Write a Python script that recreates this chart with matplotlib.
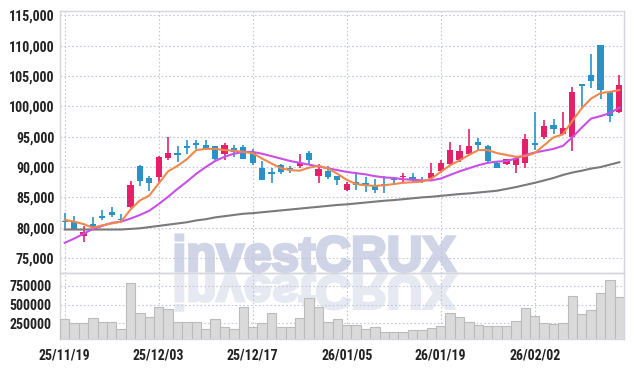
import numpy as np
import matplotlib
matplotlib.use("Agg")
import matplotlib.pyplot as plt
from matplotlib.textpath import TextPath
from matplotlib.patches import PathPatch
from matplotlib.font_manager import FontProperties
from matplotlib.transforms import Affine2D
from matplotlib.ticker import FuncFormatter

plt.rcParams['font.family'] = ['Liberation Sans Narrow', 'Roboto Condensed', 'DejaVu Sans']

# daily candles
opens = [81100, 81000, 78600, 80600, 81900, 82600, 81400, 83400, 90200, 88200,
         88300, 91500, 92300, 93500, 93800, 93600, 93500, 92100, 93200, 93300,
         92300, 89800, 89200, 90300, 89900, 90100, 92400, 88600, 89300, 88500,
         86200, 87500, 87400, 87100, 87200, 87900, 88300, 88400, 87900, 88200,
         89400, 90500, 91200, 92200, 94100, 93500, 90700, 90500, 90300, 90600,
         93900, 95000, 96900, 95400, 95000, 103700, 105200, 110100, 102400, 99100]
closes = [80900, 79800, 79300, 79900, 81600, 82100, 81200, 87000, 87700, 87400,
          91700, 92400, 92000, 93200, 93700, 93000, 91300, 93600, 92500, 91400,
          90600, 87900, 88800, 89200, 89700, 90600, 91100, 89600, 88400, 87900,
          87200, 87100, 86800, 86300, 87000, 87800, 88600, 87900, 87700, 89100,
          90600, 92800, 92600, 93500, 93600, 91000, 89900, 91300, 91500, 94600,
          93700, 96800, 96300, 96400, 102300, 103400, 104200, 102700, 98500, 103500]
highs = [82500, 81900, 80200, 81800, 82900, 83400, 82200, 87700, 90400, 88500,
         91800, 95000, 93400, 94500, 94500, 94500, 93500, 93900, 93700, 93600,
         92900, 91000, 89800, 90500, 90200, 92200, 92700, 90500, 90200, 88600,
         87600, 89000, 88300, 88000, 88500, 88300, 89100, 89000, 88400, 90600,
         91200, 94200, 93600, 96300, 94800, 93600, 90800, 91400, 91700, 95400,
         99100, 97800, 97900, 99100, 103200, 103700, 108600, 110100, 102500, 105200]
lows = [79600, 79700, 77700, 79700, 81200, 81700, 80900, 83300, 86800, 86100,
        87500, 91200, 90900, 92100, 93000, 92900, 91200, 91200, 91600, 91300,
        90300, 87800, 87300, 88900, 89100, 89800, 90500, 87300, 88000, 87000,
        86100, 86300, 85900, 85700, 85700, 87200, 87600, 87300, 87300, 87800,
        89100, 90200, 90900, 92000, 92800, 90900, 89800, 90300, 89000, 89900,
        92800, 94600, 95500, 95300, 92600, 99600, 103000, 101200, 97400, 99000]

# moving average lines
ma5 = [81300, 81000, 80600, 80000, 80400, 80700, 81000, 83000, 84500, 85300,
       87300, 89300, 90200, 91300, 92800, 93000, 93000, 92800, 92700, 92500,
       92300, 91400, 90600, 89800, 89500, 89400, 89900, 90200, 89800, 88900,
       87900, 87200, 87000, 86900, 87000, 87200, 87400, 87500, 87600, 88100,
       89200, 90300, 91100, 92000, 92800, 92800, 92300, 92000, 91700, 91800,
       92300, 93600, 94900, 95400, 97600, 99700, 101300, 102200, 102400, 102700]
ma20 = [77500, 78200, 79000, 79800, 80300, 80800, 81000, 81500, 82100, 82800,
        83900, 85100, 86400, 87600, 88900, 90000, 91000, 91700, 92200, 92500,
        92500, 92200, 91800, 91400, 91000, 90700, 90400, 90100, 89800, 89500,
        89200, 89000, 88800, 88500, 88300, 88200, 88000, 87900, 87800, 87800,
        88100, 88700, 89300, 89800, 90300, 90700, 90900, 91000, 91400, 92000,
        92400, 92700, 93000, 93500, 94900, 96500, 98000, 98400, 98900, 99800]
ma60 = [79700, 79700, 79700, 79700, 79700, 79700, 79700, 79800, 79900, 80100,
        80300, 80500, 80700, 80900, 81200, 81400, 81700, 81900, 82100, 82300,
        82400, 82550, 82700, 82850, 83000, 83150, 83300, 83450, 83600, 83750,
        83850, 84000, 84150, 84300, 84450, 84550, 84700, 84850, 85000, 85100,
        85250, 85400, 85550, 85650, 85800, 85950, 86100, 86400, 86700, 87050,
        87400, 87800, 88200, 88700, 89100, 89400, 89750, 90000, 90400, 90800]

volumes = [303000, 250000, 250000, 316000, 271000, 271000, 170000, 782000, 383000, 330000,
           463000, 436000, 271000, 263000, 263000, 170000, 311000, 205000, 170000, 463000,
           197000, 250000, 391000, 197000, 197000, 324000, 582000, 463000, 263000, 303000,
           227000, 227000, 170000, 197000, 134000, 134000, 134000, 157000, 157000, 184000,
           214000, 383000, 330000, 267000, 227000, 210000, 210000, 210000, 277000, 449000,
           347000, 254000, 241000, 254000, 613000, 374000, 427000, 653000, 822000, 600000]

date_pos = [0, 10, 20, 30, 40, 50]
date_labels = ["25/11/19", "25/12/03", "25/12/17", "26/01/05", "26/01/19", "26/02/02"]
price_ticks = list(range(75000, 115001, 5000))
vol_ticks = [250000, 500000, 750000]

UP = '#e5206b'
DOWN = '#2b92c9'
GRID = '#c3c7da'
FRAME = '#d4d5dd'

W, H = 634, 368
fig = plt.figure(figsize=(W / 100, H / 100), dpi=100)

# watermark layer in pixel coordinates
bg = fig.add_axes([0, 0, 1, 1], zorder=0)
bg.set_xlim(0, W)
bg.set_ylim(H, 0)
bg.axis('off')
tp = TextPath((0, 0), "investCRUX", size=1, prop=FontProperties(family='Liberation Sans', weight='bold'))
ext = tp.get_extents()
sx = (455 - 176) / ext.width
sy = (271 - 235) / ext.y1
tr = Affine2D().translate(-ext.x0, 0).scale(sx, -sy).translate(176, 271)
bg.add_patch(PathPatch(tr.transform_path(tp), fc='#cfd5e7', ec='#cfd5e7', lw=2.2))
tr2 = Affine2D().translate(-ext.x0, 0).scale(sx, sy * 0.95).translate(176, 276)
bg.add_patch(PathPatch(tr2.transform_path(tp), fc='#e6e9f1', ec='#e6e9f1', lw=2.2))

left, width = 60 / W, 564 / W
ax = fig.add_axes([left, (H - 273) / H, width, 262 / H], zorder=1)
axv = fig.add_axes([left, (H - 339) / H, width, 66 / H], zorder=1, sharex=ax)
for a in (ax, axv):
    a.set_facecolor('none')
    for s in a.spines.values():
        s.set_color(FRAME)
        s.set_linewidth(1)
    a.grid(True, color=GRID, linestyle=(0, (1.5, 2)), linewidth=0.8)
    a.set_axisbelow(True)
    a.tick_params(length=0, labelsize=10, labelcolor='#222222')
    for lbl in a.get_yticklabels() + a.get_xticklabels():
        lbl.set_fontweight('bold')

x = np.arange(len(opens))
o = np.array(opens)
c = np.array(closes)
up = c >= o
colors = np.where(up, UP, DOWN)

ax.vlines(x, lows, highs, colors=colors, linewidth=1.2, zorder=3)
body_lo = np.minimum(o, c)
body_h = np.maximum(np.abs(c - o), 220)
ax.bar(x, body_h, bottom=body_lo, width=0.64, color=colors, zorder=4)

ax.plot(x, ma60, color='#7a7a7a', linewidth=1.5, zorder=5)
ax.plot(x, ma20, color='#c94fe6', linewidth=1.5, zorder=5)
ax.plot(x, ma5, color='#f0884c', linewidth=1.5, zorder=6)

ax.set_xlim(-0.5, len(opens) - 0.5)
ax.set_ylim(72530, 115740)
ax.set_yticks(price_ticks)
ax.set_yticklabels([f"{v:,}" for v in price_ticks], fontweight='bold')
ax.tick_params(axis='y', pad=4)
ax.set_xticks(date_pos)
ax.tick_params(axis='x', labelbottom=False)

axv.bar(x, volumes, width=1.0, color='#dadada', edgecolor='#bbbbbb', linewidth=0.8, zorder=3)
axv.set_ylim(40000, 920000)
axv.set_yticks(vol_ticks)
axv.set_yticklabels([str(v) for v in vol_ticks], fontweight='bold')
axv.tick_params(axis='y', pad=6)
axv.set_xticks(date_pos)
axv.set_xticklabels(date_labels, fontweight='bold')
axv.tick_params(axis='x', pad=7)

fig.savefig("out.png", dpi=100)
